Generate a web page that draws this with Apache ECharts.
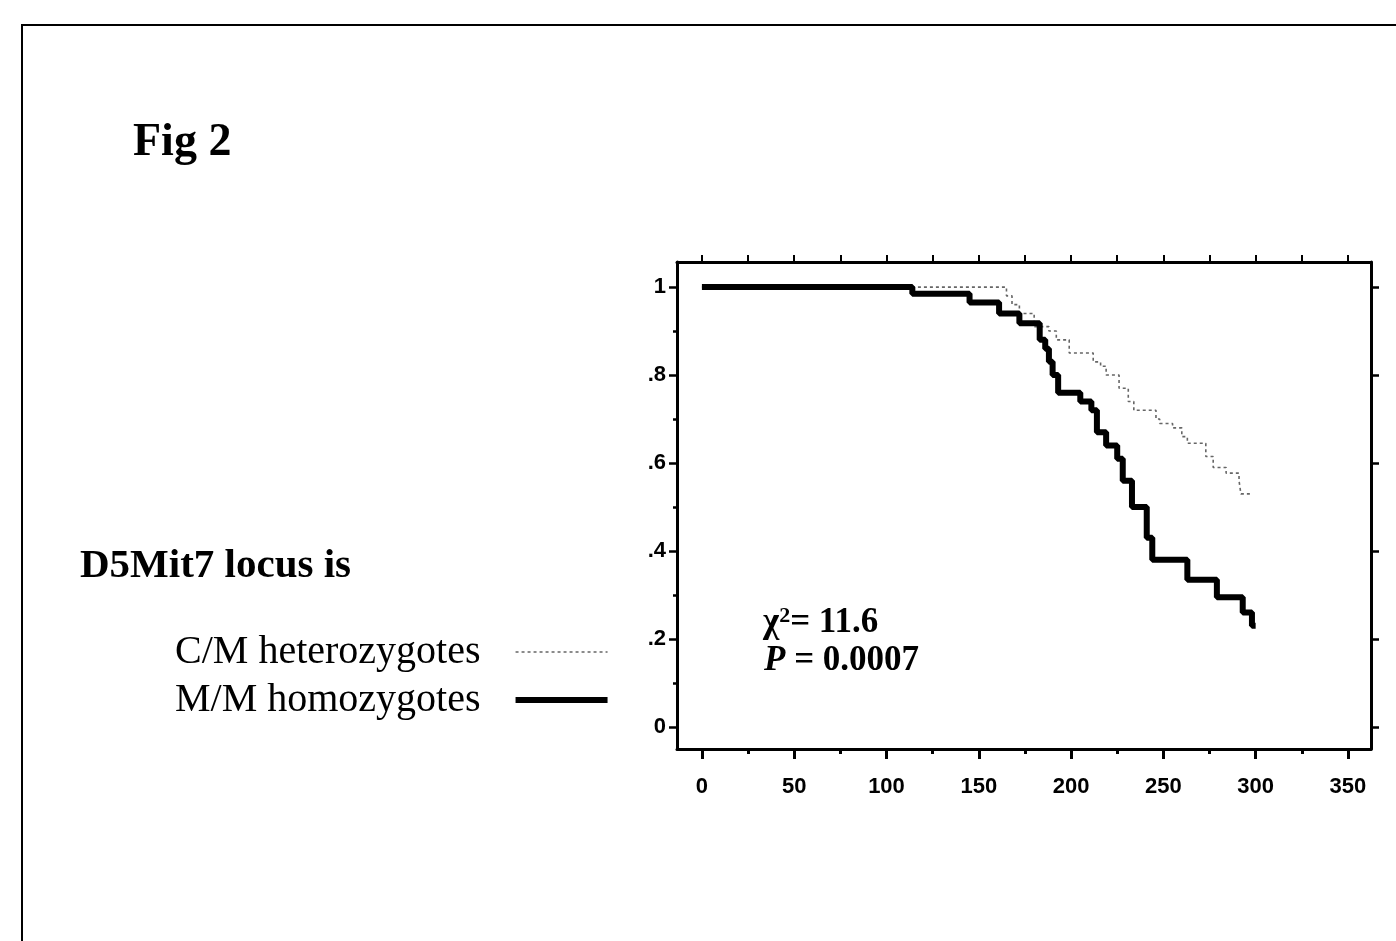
<!DOCTYPE html>
<html><head><meta charset="utf-8">
<script src="https://cdn.jsdelivr.net/npm/echarts@6/dist/echarts.min.js"></script>
<style>html,body{margin:0;padding:0;background:#fff}#c{width:1396px;height:941px}</style>
</head><body><div id="c"></div>
<script>
// ---- data ----
const seriesNames = ['C/M heterozygotes', 'M/M homozygotes'];
const cmTimes = [0, 165, 168, 172, 180, 188, 192, 199, 212, 216, 219, 226, 231, 234, 246, 248, 255, 260, 263, 273, 277, 284, 291, 292, 298];
const cmSurv  = [1, 0.98, 0.96, 0.94, 0.91, 0.90, 0.88, 0.85, 0.83, 0.82, 0.80, 0.77, 0.74, 0.72, 0.70, 0.69, 0.68, 0.66, 0.645, 0.615, 0.59, 0.577, 0.56, 0.53, 0.53];
const mmTimes = [0, 114, 145, 161, 172, 183, 186, 188, 190, 193, 205, 211, 214, 219, 225, 228, 233, 241, 244, 263, 279, 293, 298, 300];
const mmSurv  = [1, 0.985, 0.965, 0.94, 0.918, 0.88, 0.86, 0.83, 0.80, 0.76, 0.74, 0.72, 0.67, 0.64, 0.61, 0.56, 0.50, 0.43, 0.38, 0.335, 0.295, 0.26, 0.23, 0.23];
const xTickValues = [0, 50, 100, 150, 200, 250, 300, 350];
const xMinorTickValues = [25, 75, 125, 175, 225, 275, 325];
const xTopTickValues = [0, 25, 50, 75, 100, 125, 150, 175, 200, 225, 250, 275, 300, 325, 350];
const yTickValues = [0, 0.2, 0.4, 0.6, 0.8, 1];
const yTickLabels = ['0', '.2', '.4', '.6', '.8', '1'];
const yMinorTickValues = [0.1, 0.3, 0.5, 0.7, 0.9];
const statLines = ['χ', '2', '= 11.6', 'P', ' = 0.0007'];

// ---- chart ----
const X_MIN = -13.5, X_MAX = 362.5, Y_MIN = -0.05, Y_MAX = 1.057;
const chart = echarts.init(document.getElementById('c'), null, {renderer: 'canvas'});
const axisFont = {fontFamily: 'Liberation Sans', fontWeight: 'bold', fontSize: 22, color: '#000'};
const line3 = {color: '#000', width: 3};
const cmStyle = {color: '#666', width: 1.6, type: [3, 3]};
const mmStyle = {color: '#000', width: 6};
function xAx(extra) {
  return Object.assign({type: 'value', min: X_MIN, max: X_MAX, splitLine: {show: false},
    axisLine: {show: false, onZero: false, lineStyle: line3}, axisTick: {show: false}, axisLabel: {show: false}}, extra);
}
function yAx(extra) {
  return Object.assign({type: 'value', min: Y_MIN, max: Y_MAX, splitLine: {show: false},
    axisLine: {show: false, onZero: false, lineStyle: line3}, axisTick: {show: false}, axisLabel: {show: false}}, extra);
}
const zip = (a, b) => a.map((t, i) => [t, b[i]]);

chart.setOption({
  animation: false,
  backgroundColor: '#fff',
  grid: {left: 677, top: 262, width: 694, height: 487, containLabel: false},
  xAxis: [
    xAx({position: 'bottom',
      axisLine: {show: true, onZero: false, lineStyle: line3},
      axisTick: {show: true, customValues: xTickValues, length: 10, lineStyle: {color: '#000', width: 3}},
      axisLabel: {show: true, customValues: xTickValues, margin: 27, ...axisFont}}),
    xAx({position: 'bottom',
      axisTick: {show: true, customValues: xMinorTickValues, length: 5, lineStyle: {color: '#000', width: 3}}}),
    xAx({position: 'top',
      axisLine: {show: true, onZero: false, lineStyle: line3},
      axisTick: {show: true, customValues: xTopTickValues, length: 7, lineStyle: {color: '#000', width: 2}}})
  ],
  yAxis: [
    yAx({position: 'left',
      axisLine: {show: true, onZero: false, lineStyle: line3},
      axisTick: {show: true, customValues: yTickValues, length: 8, lineStyle: {color: '#000', width: 2.5}},
      axisLabel: {show: true, customValues: yTickValues, margin: 11, ...axisFont,
        formatter: v => { const i = yTickValues.findIndex(t => Math.abs(t - v) < 1e-6); return i >= 0 ? yTickLabels[i] : ''; }}}),
    yAx({position: 'left',
      axisTick: {show: true, customValues: yMinorTickValues, length: 4, lineStyle: {color: '#000', width: 2.5}}}),
    yAx({position: 'right',
      axisLine: {show: true, onZero: false, lineStyle: line3},
      axisTick: {show: true, customValues: yTickValues, length: 8, lineStyle: {color: '#000', width: 2.5}}})
  ],
  legend: {
    orient: 'vertical', left: 175, top: 632, align: 'right', padding: 0,
    itemWidth: 92, itemHeight: 14, itemGap: 8, selectedMode: false,
    itemStyle: {opacity: 0},
    data: [
      {name: seriesNames[0], lineStyle: {width: cmStyle.width, color: cmStyle.color, type: cmStyle.type}},
      {name: seriesNames[1], lineStyle: {width: mmStyle.width, color: mmStyle.color}}
    ],
    textStyle: {fontFamily: 'Liberation Serif', fontSize: 40, color: '#000', lineHeight: 40, padding: [0, 30, 0, 0]}
  },
  series: [
    {name: seriesNames[0], type: 'line', step: 'end', symbol: 'none', showSymbol: false, silent: true,
      xAxisIndex: 0, yAxisIndex: 0, z: 2, itemStyle: {color: cmStyle.color},
      lineStyle: cmStyle,
      data: zip(cmTimes, cmSurv)},
    {name: seriesNames[1], type: 'line', step: 'end', symbol: 'none', showSymbol: false, silent: true,
      xAxisIndex: 0, yAxisIndex: 0, z: 3, itemStyle: {color: mmStyle.color},
      lineStyle: mmStyle,
      data: zip(mmTimes, mmSurv)}
  ],
  graphic: [
    {type: 'rect', silent: true, shape: {x: 22, y: 25, width: 1400, height: 1000},
      style: {fill: 'none', stroke: '#000', lineWidth: 2}},
    {type: 'text', silent: true, x: 133, y: 143,
      style: {text: 'Fig 2', font: 'bold 46px "Liberation Serif"', fill: '#000', verticalAlign: 'middle'}},
    {type: 'text', silent: true, x: 80, y: 566,
      style: {text: 'D5Mit7 locus is', font: 'bold 41px "Liberation Serif"', fill: '#000', verticalAlign: 'middle'}},
    {type: 'text', silent: true, x: 763, y: 623,
      style: {text: '{c|' + statLines[0] + '}{s|' + statLines[1] + '}{c|' + statLines[2] + '}', verticalAlign: 'middle',
        rich: {c: {fontFamily: 'Liberation Serif', fontWeight: 'bold', fontSize: 35, lineHeight: 36, fill: '#000'},
               s: {fontFamily: 'Liberation Serif', fontWeight: 'bold', fontSize: 22, lineHeight: 22, verticalAlign: 'top', fill: '#000'}}}},
    {type: 'text', silent: true, x: 764, y: 661,
      style: {text: '{i|' + statLines[3] + '}{c|' + statLines[4] + '}', verticalAlign: 'middle',
        rich: {i: {fontFamily: 'Liberation Serif', fontWeight: 'bold', fontStyle: 'italic', fontSize: 35, fill: '#000'},
               c: {fontFamily: 'Liberation Serif', fontWeight: 'bold', fontSize: 35, fill: '#000'}}}}
  ]
});
</script></body></html>
